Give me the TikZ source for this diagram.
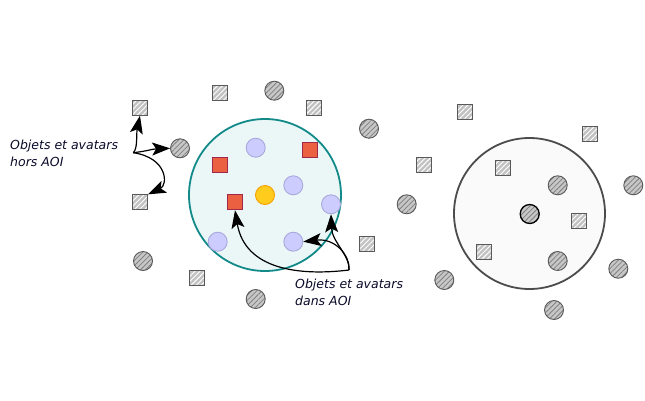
\documentclass[tikz,border=0pt]{standalone}
\usepackage{fontspec}
\newfontfamily\lblfont{DejaVu Sans}
\usetikzlibrary{patterns.meta,arrows.meta}
\definecolor{teal1}{HTML}{128A8A}
\definecolor{tealfill}{HTML}{EBF7F7}
\definecolor{lav}{HTML}{CCCCFF}
\definecolor{lavd}{HTML}{A8A8DC}
\definecolor{redf}{HTML}{EA6040}
\definecolor{redd}{HTML}{A0284A}
\definecolor{yel}{HTML}{FFCC1E}
\definecolor{yeld}{HTML}{F5A000}
\definecolor{txt}{HTML}{0A0A2A}
\tikzset{
  hsq/.style={draw=black!65,line width=0.9pt,preaction={fill=black!24},minimum size=15pt,inner sep=0pt,
    pattern={Lines[angle=45,distance=3.6pt,line width=0.9pt]},pattern color=white},
  hci/.style={circle,draw=black!65,line width=0.9pt,preaction={fill=black!22},minimum size=19pt,inner sep=0pt,
    pattern={Lines[angle=45,distance=3.6pt,line width=0.8pt]},pattern color=black!50},
  lci/.style={circle,draw=lavd,line width=0.9pt,fill=lav,minimum size=19pt,inner sep=0pt},
  rsq/.style={draw=redd,line width=0.9pt,fill=redf,minimum size=15pt,inner sep=0pt},
  arr/.style={line width=1.2pt,arrows={-Stealth[length=18pt,width=13pt,inset=4pt]}},
  lbl/.style={font=\lblfont\itshape\fontsize{12.5}{16.7}\selectfont,text=txt,align=left,inner sep=0pt}
}
\begin{document}
\begin{tikzpicture}[x=1pt,y=-1pt]
\useasboundingbox (0,0) rectangle (645,400);
% zones
\node[circle,draw=teal1,line width=1.8pt,fill=tealfill,minimum size=152pt,inner sep=0pt] (aoi) at (265,195) {};
\node[circle,draw=black!70,line width=1.8pt,fill=black!2,minimum size=151pt,inner sep=0pt] (aoi2) at (529.5,213.5) {};
% inside left
\node[lci] (l1) at (255.7,147.7) {};
\node[rsq] (r1) at (310,150) {};
\node[rsq] (r2) at (220,165) {};
\node[lci] (l2) at (293.3,185.3) {};
\node[circle,draw=yeld,line width=0.9pt,fill=yel,minimum size=19pt,inner sep=0pt] (me) at (265,195) {};
\node[lci] (l3) at (331,204.3) {};
\node[rsq] (r3) at (235,202.3) {};
\node[lci] (l4) at (217.7,241.7) {};
\node[lci] (l5) at (293.3,241.7) {};
% outside
\node[hsq] (s1) at (140,107.7) {};
\node[hci] (c1) at (180,148.3) {};
\node[hsq] (s2) at (140,202.3) {};
\node[hsq] (s3) at (220,92.7) {};
\node[hci] (c2) at (274.3,90.7) {};
\node[hsq] (s4) at (314,107.7) {};
\node[hci] (c3) at (369,128.7) {};
\node[hsq] (s5) at (424,164.7) {};
\node[hci] (c4) at (406.7,204.3) {};
\node[hsq] (s6) at (366.7,244) {};
\node[hci] (c5) at (255.7,299) {};
\node[hsq] (s7) at (197,277.5) {};
\node[hci] (c6) at (143,261) {};
\node[hsq] (s8) at (465,112) {};
\node[hsq] (s9) at (590,134.3) {};
\node[hci] (c7) at (633.3,185.3) {};
\node[hci] (c8) at (618.3,268.7) {};
\node[hci] (c9) at (554,310) {};
\node[hci] (c10) at (444.3,280) {};
% inside right
\node[hsq] (s10) at (502.7,168.3) {};
\node[hci] (c11) at (557.7,185.3) {};
\node[hci,draw=black,line width=1.3pt] (c12) at (529.7,214) {};
\node[hsq] (s11) at (579,221) {};
\node[hsq] (s12) at (484,252) {};
\node[hci] (c13) at (557.7,261) {};
% labels
\node[lbl,anchor=west] (hors) at (10,153.5) {Objets et avatars\\hors AOI};
\node[lbl,anchor=west] (dans) at (295,292) {Objets et avatars\\dans AOI};
\coordinate (ph) at (133.3,152.7);
\coordinate (pd) at (349,270);
% arrows
\draw[arr] (ph) .. controls (138,148) and (136,135) .. (s1.south);
\draw[arr] (ph) .. controls (148,151) and (152,149) .. (c1.west);
\draw[arr] (ph) .. controls (168,158) and (168,185) .. (s2.north east);
\draw[arr] (pd) .. controls (300,276) and (245,270) .. (r3.south);
\draw[arr] (pd) .. controls (350,255) and (335,238) .. (l5.east);
\draw[arr] (pd) .. controls (350,255) and (332,242) .. (l3.south);
\end{tikzpicture}
\end{document}
